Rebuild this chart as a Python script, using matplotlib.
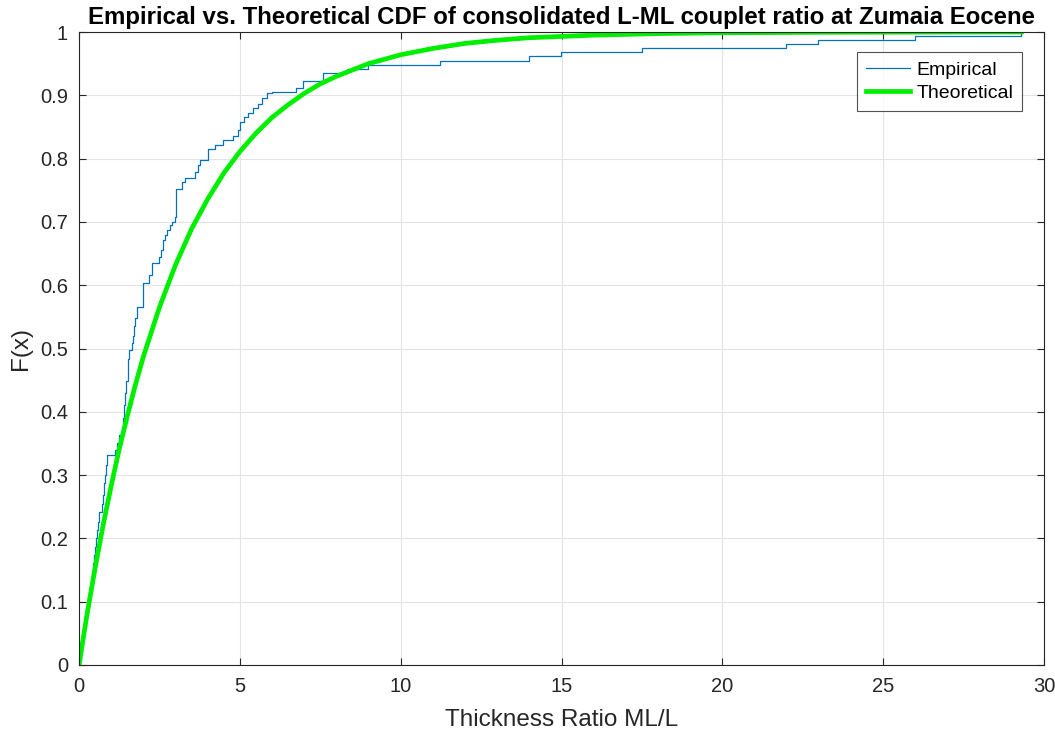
import numpy as np
import matplotlib
matplotlib.use("Agg")
import matplotlib.pyplot as plt

plt.rcParams['font.family'] = ['Liberation Sans', 'DejaVu Sans']

# empirical CDF: x where each step happens, level after the step
emp_x = [0.0, 0.02, 0.05, 0.08, 0.12, 0.15, 0.18, 0.22, 0.26, 0.30, 0.33,
         0.36, 0.40, 0.43, 0.46, 0.50, 0.53, 0.55, 0.58, 0.61, 0.71, 0.74,
         0.78, 0.80, 0.83, 0.86, 1.11, 1.18, 1.25, 1.33, 1.38, 1.40, 1.42,
         1.45, 1.51, 1.53, 1.55, 1.64, 1.68, 1.72, 1.75, 1.79, 1.98, 2.00,
         2.18, 2.26, 2.50, 2.54, 2.62, 2.68, 2.74, 2.82, 2.88, 2.98, 3.00,
         3.02, 3.19, 3.30, 3.62, 3.70, 3.76, 4.00, 4.02, 4.24, 4.49, 4.80,
         4.95, 5.00, 5.12, 5.26, 5.42, 5.57, 5.68, 5.83, 5.99, 6.76, 6.97,
         7.59, 8.32, 8.99, 11.22, 14.00, 14.98, 17.50, 21.98, 22.98, 25.99,
         29.30]
emp_F = [0.0, 0.0065, 0.019, 0.032, 0.045, 0.058, 0.071, 0.084, 0.097, 0.110,
         0.123, 0.135, 0.148, 0.161, 0.174, 0.187, 0.200, 0.213, 0.226, 0.242,
         0.255, 0.268, 0.287, 0.300, 0.316, 0.332, 0.339, 0.350, 0.363, 0.376,
         0.390, 0.410, 0.430, 0.448, 0.465, 0.484, 0.498, 0.508, 0.520, 0.535,
         0.548, 0.566, 0.580, 0.603, 0.616, 0.635, 0.645, 0.656, 0.671, 0.680,
         0.687, 0.695, 0.700, 0.708, 0.730, 0.7515, 0.7635, 0.770, 0.779,
         0.790, 0.798, 0.806, 0.815, 0.8215, 0.829, 0.8357, 0.845, 0.858,
         0.866, 0.8726, 0.8794, 0.887, 0.895, 0.903, 0.9047, 0.911, 0.923,
         0.9355, 0.9419, 0.9484, 0.9548, 0.9613, 0.9677, 0.9742, 0.9806,
         0.9871, 0.99355, 1.0]

# fitted (theoretical) CDF
theo_x = [0, 0.25, 0.5, 0.75, 1, 1.25, 1.5, 1.75, 2, 2.5, 3, 3.5, 4, 4.5, 5,
          5.5, 6, 6.5, 7, 7.5, 8, 9, 10, 11, 12, 13, 14, 16, 18, 20, 23, 26, 29.3]
theo_F = [0, 0.08, 0.153, 0.221, 0.283, 0.341, 0.393, 0.442, 0.487, 0.565,
          0.632, 0.689, 0.736, 0.777, 0.811, 0.84, 0.865, 0.885, 0.903, 0.918,
          0.93, 0.95, 0.964, 0.974, 0.982, 0.987, 0.991, 0.995, 0.9975, 0.9988,
          0.9995, 0.9998, 1.0]

xticks = [0, 5, 10, 15, 20, 25, 30]
yticks = [0, 0.1, 0.2, 0.3, 0.4, 0.5, 0.6, 0.7, 0.8, 0.9, 1]

fig = plt.figure(figsize=(10.55, 7.29), dpi=100)
ax = fig.add_axes([79/1055, 1 - 665/729, (1044 - 79)/1055, (665 - 32)/729])

ax.step(emp_x, emp_F, where='post', color='#0072BD', lw=0.9, label='Empirical')
ax.plot(theo_x, theo_F, color='#00EE00', lw=3.4, label='Theoretical')

ax.set_xlim(0, 30)
ax.set_ylim(0, 1)
ax.set_xticks(xticks)
ax.set_yticks(yticks)
ax.set_yticklabels(['0' if v == 0 else ('1' if v == 1 else f'{v:g}') for v in yticks])
ax.grid(True, color='#e3e3e3', lw=0.8)
ax.set_axisbelow(True)
ax.tick_params(direction='in', top=True, right=True, length=5, width=0.8,
               colors='#262626', labelsize=14.5)
ax.tick_params(axis='x', pad=9)
ax.tick_params(axis='y', pad=8)
for s in ax.spines.values():
    s.set_color('#262626')
    s.set_linewidth(0.8)

ax.set_xlabel('Thickness Ratio ML/L', fontsize=17.5, color='#262626', labelpad=9)
ax.set_ylabel('F(x)', fontsize=17.5, color='#262626', labelpad=6)
ax.set_title('Empirical vs. Theoretical CDF of consolidated L-ML couplet ratio at Zumaia Eocene',
             fontsize=17.3, fontweight='bold', pad=6)

leg = ax.legend(loc='upper right', bbox_to_anchor=(0.977, 0.968), borderaxespad=0,
                fontsize=14, frameon=True, fancybox=False, edgecolor='#262626',
                handlelength=2.3, borderpad=0.45, labelspacing=0.3, handletextpad=0.3)
leg.get_frame().set_linewidth(0.8)

fig.savefig('out.png', dpi=100)
